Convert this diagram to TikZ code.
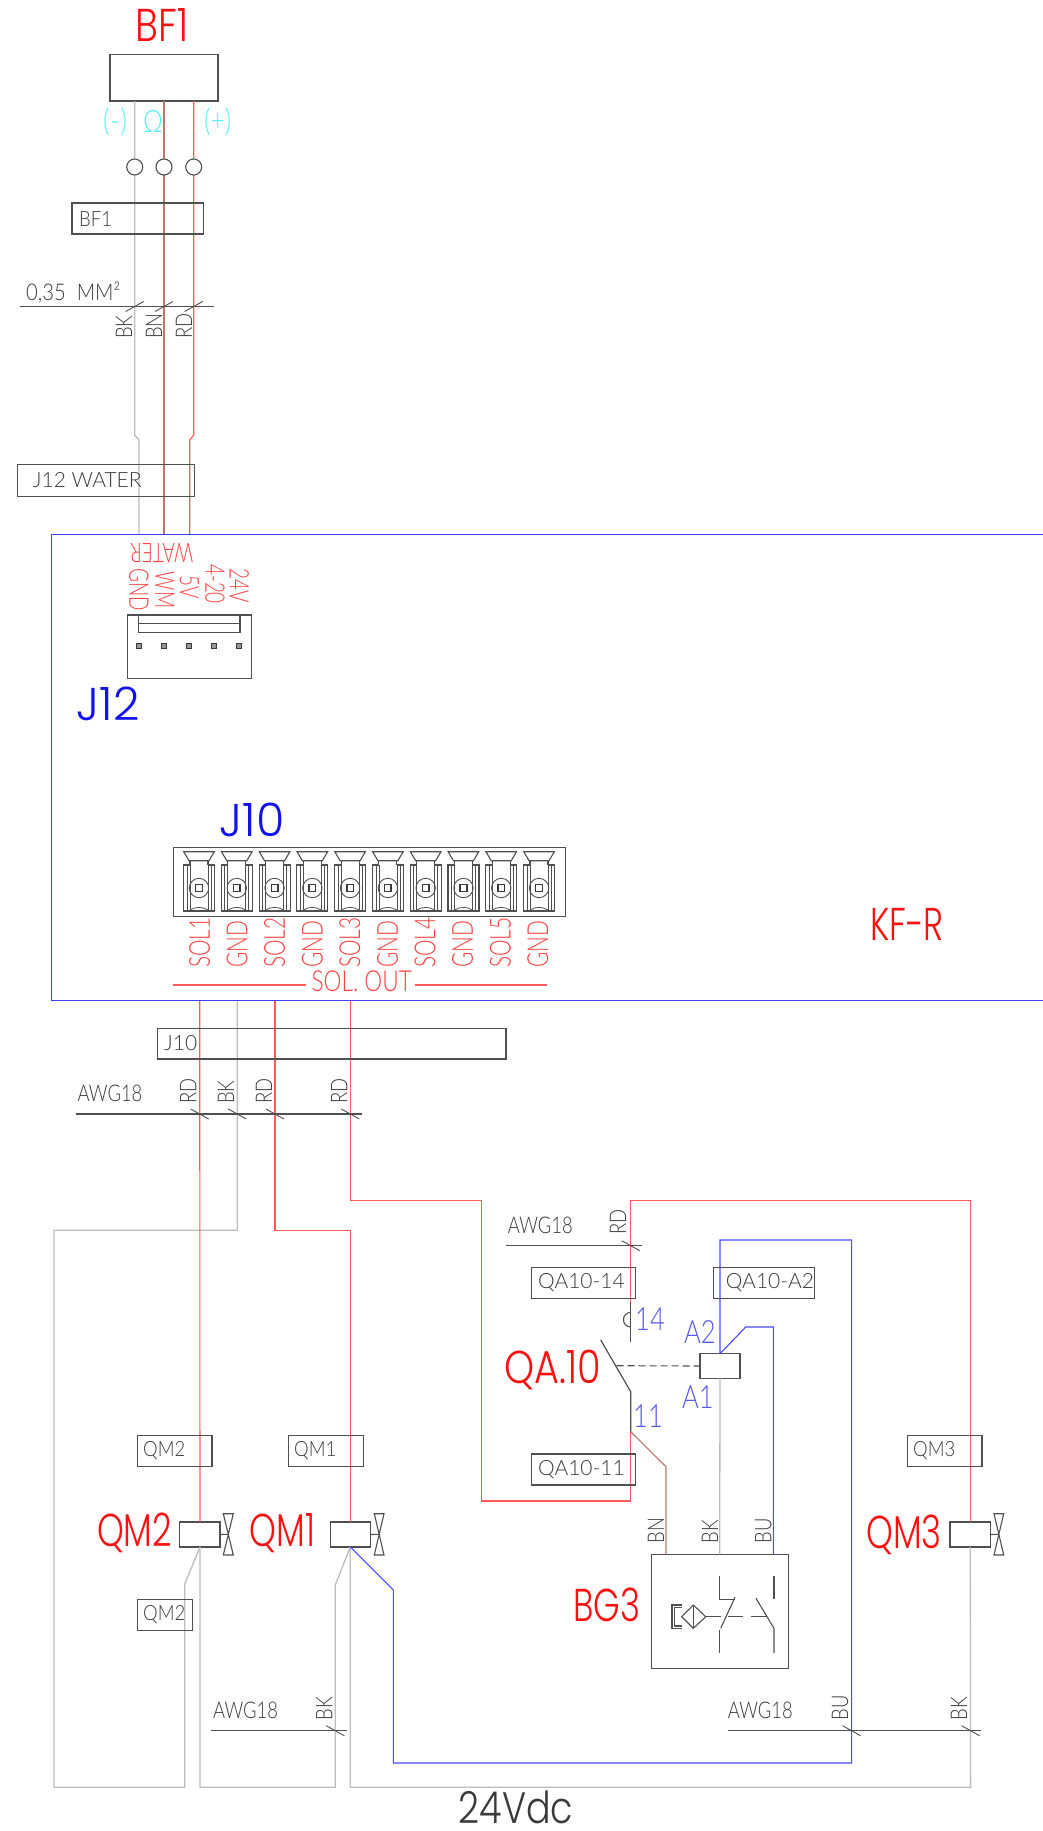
\documentclass[tikz,border=0pt]{standalone}
\usepackage{fontspec}
\newfontfamily\cad[FakeStretch=0.8,UprightFont=* Light]{Lato}
\newfontfamily\cadm[FakeStretch=0.88,UprightFont=* Light]{Lato}
\newfontfamily\cadt[FakeStretch=1.0,UprightFont=* Light]{Lato}
\newfontfamily\cadred[FakeStretch=0.7,UprightFont=* Light]{Lato}
\newfontfamily\cadredb[FakeStretch=0.72,UprightFont=* Light]{Lato}
\newfontfamily\cadredw[FakeStretch=0.78,UprightFont=* Light]{Lato}
\newfontfamily\goth[FakeStretch=0.74,UprightFont=* Light]{Poppins}
\newfontfamily\gothw[FakeStretch=0.83,UprightFont=* Light]{Poppins}
\newfontfamily\gothb[FakeStretch=1.0,UprightFont=* Light]{Poppins}
\definecolor{ln}{HTML}{505050}
\definecolor{tx}{HTML}{3A3A3A}
\definecolor{wgy}{HTML}{BDBDBD}
\definecolor{wbn}{HTML}{B9786A}
\definecolor{wrd}{HTML}{FF5A5A}
\definecolor{wbu}{HTML}{4A4AFF}
\definecolor{lbl}{HTML}{FF1010}
\definecolor{lbr}{HTML}{FF4040}
\definecolor{bl}{HTML}{1010F0}
\definecolor{blt}{HTML}{5858F0}
\definecolor{cy}{HTML}{50F0F8}
\tikzset{
 box/.style={draw=ln,line width=1.1pt,inner sep=0pt,outer sep=0pt},
 lin/.style={draw=ln,line width=1.1pt},
 wg/.style={draw=wgy,line width=1.3pt,line join=miter},
 wb/.style={draw=wbn,line width=1.1pt},
 wr/.style={draw=wrd,line width=1.1pt},
 wu/.style={draw=wbu,line width=1.1pt},
 tickm/.style={draw=ln,line width=0.9pt},
 tagn/.style={font=\cadm\fontsize{21}{21}\selectfont,text=tx,inner sep=0pt,anchor=west},
 tagw/.style={font=\cadt\fontsize{21}{21}\selectfont,text=tx,inner sep=0pt,anchor=west},
 cab/.style={font=\cad\fontsize{23}{23}\selectfont,text=tx,inner sep=0pt,anchor=base west},
 cor/.style={font=\cad\fontsize{23}{23}\selectfont,text=tx,inner sep=0pt,anchor=west,rotate=90},
 rl/.style={font=\cadred\fontsize{27}{27}\selectfont,text=lbr,inner sep=0pt},
 rlb/.style={font=\cadredb\fontsize{29}{29}\selectfont,text=lbr,inner sep=0pt},
 rlw/.style={font=\cadredw\fontsize{29}{29}\selectfont,text=lbr,inner sep=0pt},
 big/.style={font=\goth\fontsize{46}{46}\selectfont,text=lbl,inner sep=0pt},
 bigw/.style={font=\gothw\fontsize{46}{46}\selectfont,text=lbl,inner sep=0pt},
 blu/.style={font=\gothb\fontsize{46}{46}\selectfont,text=bl,inner sep=0pt},
 pinl/.style={font=\cad\fontsize{32}{32}\selectfont,text=blt,inner sep=0pt},
 cyl/.style={font=\cad\fontsize{31}{31}\selectfont,text=cy,inner sep=0pt},
}
\newcommand\bx[5]{\pgfmathsetmacro\bw{#4-#2}\pgfmathsetmacro\bh{#5-#3}%
 \node[box,anchor=north west,minimum width=\bw pt,minimum height=\bh pt] (#1) at (#2,#3) {};}
\newcommand\valve[4]{% left, right, coil anchor, axis
 \draw[lin] (#1,1513.7) -- (#2,1513.7) -- (#1,1555) -- (#2,1555) -- cycle;
 \draw[draw=ln,line width=1.1pt] (#3) -- (#4,1534.3);}
\begin{document}
\begin{tikzpicture}[x=1pt,y=-1pt]
\useasboundingbox (0,0) rectangle (1043,1831);
\fill[white] (0,0) rectangle (1043,1831);

% ---------- boxes used as wire ends
\bx{bf}{110}{54.5}{218}{101}
\bx{qm2c}{179.3}{1522}{220}{1547}
\bx{qm1c}{330.7}{1522}{370.7}{1547}
\bx{qm3c}{950}{1522}{990.3}{1547}
\bx{coil}{700}{1353.7}{740}{1378.3}
\bx{bg}{651.7}{1554.3}{788.3}{1668.3}

% ---------- wire ends
\coordinate (bk0) at (134.7,101);
\coordinate (bn0) at (164,101);
\coordinate (rd0) at (193.7,101);
\coordinate (bk1) at (139,534.3);
\coordinate (bn1) at (164,534.3);
\coordinate (rd1) at (189.7,534.3);
\coordinate (s1) at (199.7,1001);
\coordinate (s2) at (237.3,1001);
\coordinate (s3) at (275,1001);
\coordinate (s4) at (350.3,1001);
\coordinate (qm2t) at (200,1522);
\coordinate (qm2b) at (200,1547);
\coordinate (qm1t) at (350.3,1522);
\coordinate (qm1b) at (350.3,1547);
\coordinate (qm3t) at (970.3,1522);
\coordinate (qm3b) at (970.3,1547);
\coordinate (ct) at (720,1353.7);
\coordinate (cb) at (720,1378.3);
\coordinate (bgn) at (666,1554.3);
\coordinate (bgk) at (719.7,1554.3);
\coordinate (bgu) at (773.3,1554.3);
\coordinate (c11b) at (630.7,1431.7);
\coordinate (c11t) at (630.7,1391.7);
\coordinate (c14b) at (630.7,1341.7);
\coordinate (c14t) at (630.7,1301.7);

% ---------- upper wires
\draw[wg] (bk0) -- (134.7,435) -- (139,440) -- (bk1);
\draw[wb] (bn0) -- (bn1);
\draw[wr] (rd0) -- (193.7,435) -- (189.7,440) -- (rd1);

% ---------- lower wires
\draw[wg] (s2) -- (237.3,1230.3) -- (54,1230.3) -- (54,1787.3) -- (184.7,1787.3) -- (184.7,1584) -- (qm2b);
\draw[wg] (qm2b) -- (200,1787.3) -- (335.3,1787.3) -- (335.3,1585) -- (qm1b);
\draw[wg] (qm1b) -- (350.3,1787.3) -- (970.6,1787.3) -- (qm3b);
\draw[wr] (s1) -- (qm2t);
\draw[wr] (s3) -- (275,1230.3) -- (350.3,1230.3) -- (qm1t);
\draw[wr] (s4) -- (350.3,1200.3) -- (481.7,1200.3) -- (481.7,1501) -- (630.7,1501) -- (c11b);
\draw[wr] (c14t) -- (630.7,1200.7) -- (970.3,1200.7) -- (qm3t);
\draw[wb] (c11b) -- (666,1466.7) -- (bgn);
\draw[wg] (cb) -- (bgk);
\draw[wu] (ct) -- (745.7,1327) -- (773.3,1327) -- (bgu);
\draw[wu] (ct) -- (720,1240) -- (851.6,1240) -- (851.6,1763) -- (393.3,1763) -- (393.3,1590) -- (qm1b);

% ---------- frame of the board
\coordinate (fa) at (1043,534.3);
\coordinate (fb) at (51.7,534.3);
\coordinate (fc) at (51.7,1000.7);
\coordinate (fd) at (1043,1000.7);
\draw[draw=bl!80!white,line width=1.1pt] (fa) -- (fb) -- (fc) -- (fd);

% ---------- contact QA.10
\draw[draw=ln,line width=1.3pt] (c14t) -- (c14b);
\draw[lin] (630.7,1327) arc[start angle=90,end angle=270,radius=7.3];
\draw[draw=ln,line width=1.2pt] (c11b) -- (c11t) -- (600.7,1340);
\coordinate (dashs) at (616.7,1365.7);
\draw[lin,dashed,dash pattern=on 7pt off 4pt] (dashs) -- (coil.west);

% ---------- terminals at sensor
\foreach \x/\n in {134.7/ta,164/tb,193.7/tc}
  \node[circle,draw=ln,line width=1.1pt,fill=white,minimum size=16pt,inner sep=0pt] (\n) at (\x,167) {};

% ---------- tags
\bx{tgbf}{72}{203}{203.7}{234}
\bx{tgj12}{17.7}{464.3}{194.7}{496.3}
\bx{tgj10}{157.7}{1028.3}{506}{1059}
\bx{tg14}{531.7}{1267.3}{635.3}{1298.3}
\bx{tga2}{713.3}{1267.3}{814.7}{1298.3}
\bx{tg11}{531.7}{1454}{635.3}{1485}
\bx{tgq2}{137.7}{1435.3}{212}{1466.3}
\bx{tgq1}{288.7}{1435.3}{363.3}{1466.3}
\bx{tgq3}{907.5}{1435.3}{982}{1466.3}
\bx{tgq2b}{137.7}{1599.7}{192.7}{1630.3}
\node[tagn] (ttbf) at (79,219) {BF1};
\node[tagw] (ttj12) at (32.7,480) {J12 WATER};
\node[tagw] (ttj10) at (164,1043) {J10};
\node[tagw] (tt14) at (538,1283) {QA10-14};
\node[tagw] (tta2) at (725.7,1283) {QA10-A2};
\node[tagw] (tt11) at (538,1469.7) {QA10-11};
\node[tagn] (ttq2) at (143,1451) {QM2};
\node[tagn] (ttq1) at (294,1451) {QM1};
\node[tagn] (ttq3) at (913,1451) {QM3};
\node[tagn] (ttq2b) at (143,1615) {QM2};

% ---------- cable lines
\coordinate (ca1a) at (20,306.5); \coordinate (ca1b) at (214,306.5);
\coordinate (ca2a) at (75.7,1114); \coordinate (ca2b) at (362.3,1114);
\coordinate (ca3a) at (505.7,1245.7); \coordinate (ca3b) at (641.7,1245.7);
\coordinate (ca4a) at (211,1730.7); \coordinate (ca4b) at (346.7,1730.7);
\coordinate (ca5a) at (727.7,1730.7); \coordinate (ca5b) at (981,1730.7);
\foreach \a/\b in {ca1a/ca1b,ca2a/ca2b,ca3a/ca3b,ca4a/ca4b,ca5a/ca5b} \draw[lin] (\a) -- (\b);
\foreach \x in {134.7,164,193.7} \draw[tickm] (\x-9,311.5) -- (\x+9,301.5);
\foreach \x in {199.7,237.3,275,350.3} \draw[tickm] (\x-9,1109) -- (\x+9,1119);
\draw[tickm] (621.7,1240.7) -- (639.7,1250.7);
\draw[tickm] (326.3,1725.7) -- (344.3,1735.7);
\draw[tickm] (842.6,1725.7) -- (860.6,1735.7);
\draw[tickm] (961.6,1725.7) -- (979.6,1735.7);
\node[cab,font=\cadm\fontsize{23}{23}\selectfont] (a1) at (26,300) {0,35\ \ MM²};
\node[cab] (a2) at (77.3,1101.7) {AWG18};
\node[cab] (a3) at (507.7,1233.3) {AWG18};
\node[cab] (a4) at (213,1718) {AWG18};
\node[cab] (a5) at (727.7,1718) {AWG18};
\node[cor] (c1) at (124,339) {BK};
\node[cor] (c2) at (154,339) {BN};
\node[cor] (c3) at (184,339) {RD};
\node[cor] (c4) at (188.3,1104) {RD};
\node[cor] (c5) at (226,1104) {BK};
\node[cor] (c6) at (264,1104) {RD};
\node[cor] (c7) at (339.3,1104) {RD};
\node[cor] (c8) at (618,1235) {RD};
\node[cor] (c9) at (656,1543.3) {BN};
\node[cor] (c10) at (710,1543.3) {BK};
\node[cor] (c11) at (763.3,1543.3) {BU};
\node[cor] (c12) at (324.3,1720.7) {BK};
\node[cor] (c13) at (840,1720.7) {BU};
\node[cor] (c14) at (959,1720.7) {BK};

% ---------- valves
\valve{223.3}{233.3}{qm2c.east}{228.3}
\valve{374.3}{384}{qm1c.east}{379}
\valve{994}{1003.7}{qm3c.east}{999}

% ---------- connector J12
\draw[box] (127.3,615) rectangle (251.7,678.3);
\draw[box] (138.7,615) rectangle (240,632.3);
\draw[lin] (138.7,623.3) -- (240,623.3);
\foreach \x in {139,164,189.3,214.3,239.3} {
  \draw[draw=tx,line width=1.2pt,fill=ln!60!white] (\x-2.5,643.5) rectangle (\x+2.5,648.5);
}
\node[rl,rotate=180] (w) at (162,552.7) {WATER};
\node[rl,rotate=-90] (p1) at (139,590) {GND};
\node[rl,rotate=-90] (p2) at (165,590) {WM};
\node[rl,rotate=-90] (p3) at (189.3,587) {5V};
\node[rl,rotate=-90] (p4) at (215,584) {4-20};
\node[rl,rotate=-90] (p5) at (239.3,586) {24V};

% ---------- connector J10
\draw[box] (173.3,847.7) rectangle (565.3,916.3);
\foreach \i in {0,...,9} {
  \pgfmathsetmacro\cx{199+37.78*\i}
  \begin{scope}[shift={(\cx,0)}]
   \draw[lin] (-15.3,851.7) -- (15.3,851.7) -- (10,860.7) -- (-10,860.7) -- cycle;
   \draw[lin] (-9,860.7) -- (-9,865) (9,860.7) -- (9,865);
   \draw[lin] (-9,865) -- (-15.5,865) -- (-15.5,911) -- (15.5,911) -- (15.5,865) -- (9,865);
   \draw[draw=ln,line width=.8pt] (-12,865) -- (-12,911) (12,865) -- (12,911);
   \draw[draw=ln,line width=.8pt] (-9,865) -- (-9,911) (9,865) -- (9,911);
   \draw[draw=ln,line width=.8pt] (-9,910) .. controls (-3,906.5) and (3,906.5) .. (9,910);
   \draw[draw=ln,line width=.9pt] (0,888) circle[radius=9.7];
   \draw[draw=tx,line width=1.5pt] (-3.3,884.7) rectangle (3.3,891.3);
  \end{scope}
}
\foreach \i/\t in {0/SOL1,1/GND,2/SOL2,3/GND,4/SOL3,5/GND,6/SOL4,7/GND,8/SOL5,9/GND} {
  \pgfmathsetmacro\cx{199.5+37.6*\i}
  \node[rlb,rotate=90,anchor=west] (sl\i) at (\cx,968) {\t};
}
\coordinate (ol1) at (173.3,985); \coordinate (ol2) at (305.7,985);
\coordinate (ol3) at (415,985);   \coordinate (ol4) at (547.3,985);
\draw[draw=wrd,line width=1.1pt] (ol1) -- (ol2) (ol3) -- (ol4);
\node[rlw] (so) at (361.7,981) {SOL. OUT};

% ---------- BG3 symbol
 \draw[lin] (682,1605) -- (672,1605) -- (672,1628.3) -- (682,1628.3);
 \draw[lin] (682,1607.3) -- (674.3,1607.3) -- (674.3,1626) -- (682,1626);
 \draw[lin] (681.7,1616.7) -- (693.3,1605) -- (705.7,1616.7) -- (693.3,1628.3) -- cycle;
 \draw[lin] (693.3,1605) -- (693.3,1628.3);
 \draw[lin] (705.7,1616.7) -- (720.7,1616.7);
 \draw[lin] (728.3,1616.7) -- (743.3,1616.7);
 \draw[lin] (750.7,1616.7) -- (766.7,1616.7);
 \draw[lin] (719.7,1576) -- (719.7,1599.3) -- (735,1599.3);
 \draw[lin] (735,1597.3) -- (720.7,1628.3);
 \draw[lin] (719.7,1630) -- (719.7,1653);
 \draw[lin] (774,1576) -- (774,1599.3);
 \draw[lin] (756,1598.3) -- (774,1628.3) -- (774,1653);

% ---------- big labels
\node[bigw] (lbf) at (162,25) {BF1};
\node[bigw] (lqa) at (553,1370) {QA.10};
\node[big] (lbg) at (607,1605) {BG3};
\node[big] (lq2) at (134.5,1533) {QM2};
\node[big] (lq1) at (282.5,1533) {QM1};
\node[big] (lq3) at (904,1535) {QM3};
\node[big] (lkf) at (907,924) {KF-R};
\node[blu] (lj12) at (108,704) {J12};
\node[blu] (lj10) at (252,820) {J10};
\node[font=\gothw\fontsize{44}{44}\selectfont,text=tx,inner sep=0pt] (l24) at (516,1807) {24Vdc};

% ---------- pin labels
\node[pinl] (n14) at (650,1319.3) {14};
\node[pinl] (nA2) at (700,1331.7) {A2};
\node[pinl] (nA1) at (698,1397) {A1};
\node[pinl] (n11) at (648,1416) {11};
\node[cyl] (cm) at (115,121.7) {(\kern1pt-\kern1pt)};
\node[cyl] (co) at (153,121.7) {Ω};
\node[cyl] (cp) at (217.7,121.7) {(+)};
\end{tikzpicture}
\end{document}
